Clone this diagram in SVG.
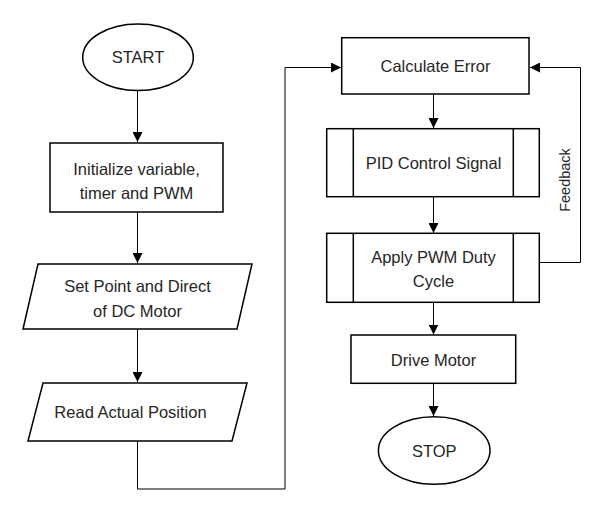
<svg xmlns="http://www.w3.org/2000/svg" width="609" height="520" viewBox="0 0 609 520">
<defs>
<marker id="ah" viewBox="0 0 10 10" refX="10" refY="5" markerWidth="10" markerHeight="10" markerUnits="userSpaceOnUse" orient="auto">
<path d="M0,0 L10,5 L0,10 Z" fill="#000"/>
</marker>
<style>
.n{fill:#fff;stroke:#000;stroke-width:1.5}
.c{fill:none;stroke:#000;stroke-width:1}
.t{font-family:"Liberation Sans",Arial,sans-serif;font-size:16.5px;fill:#262626;text-anchor:middle;dominant-baseline:central}
.f{font-size:14.5px}
</style>
</defs>
<rect width="609" height="520" fill="#fff"/>
<g id="connectors">
<path class="c" d="M137.5,91 V142" marker-end="url(#ah)"/>
<path class="c" d="M137.5,212 V263" marker-end="url(#ah)"/>
<path class="c" d="M137.5,329 V382" marker-end="url(#ah)"/>
<path class="c" d="M137.5,441 V489 H285 V67.5 H341" marker-end="url(#ah)"/>
<path class="c" d="M433.5,94 V128" marker-end="url(#ah)"/>
<path class="c" d="M433.5,197 V233" marker-end="url(#ah)"/>
<path class="c" d="M539,262.5 H580.5 V67.5 H530" marker-end="url(#ah)"/>
<path class="c" d="M433.5,302 V334.5" marker-end="url(#ah)"/>
<path class="c" d="M433.5,383 V416" marker-end="url(#ah)"/>
<text class="t f" transform="translate(565,180) rotate(-90)">Feedback</text>
</g>
<g id="start">
<ellipse class="n" cx="138" cy="57.3" rx="55.3" ry="33.3"/>
<text class="t" x="138" y="57">START</text>
</g>
<g id="init">
<rect class="n" x="50" y="143" width="173" height="69"/>
<text class="t" x="136.5" y="169">Initialize variable,</text>
<text class="t" x="136.5" y="193">timer and PWM</text>
</g>
<g id="setpoint">
<path class="n" d="M38,264 H252 L237,329 H23 Z"/>
<text class="t" x="137.5" y="286">Set Point and Direct</text>
<text class="t" x="137.5" y="311">of DC Motor</text>
</g>
<g id="read">
<path class="n" d="M43,383 H247 L232,441 H28 Z"/>
<text class="t" x="130.5" y="412">Read Actual Position</text>
</g>
<g id="calc">
<rect class="n" x="341.7" y="37.7" width="187.3" height="56.3"/>
<text class="t" x="435.5" y="66">Calculate Error</text>
</g>
<g id="pid">
<rect class="n" x="326.7" y="128.7" width="212.6" height="68"/>
<path class="n" d="M353.3,128.7 V196.7 M513.3,128.7 V196.7"/>
<text class="t" x="433.5" y="163">PID Control Signal</text>
</g>
<g id="pwm">
<rect class="n" x="326.7" y="233.3" width="212.6" height="69"/>
<path class="n" d="M353.3,233.3 V302.3 M513.3,233.3 V302.3"/>
<text class="t" x="433.5" y="256.7">Apply PWM Duty</text>
<text class="t" x="433.5" y="280.7">Cycle</text>
</g>
<g id="drive">
<rect class="n" x="351" y="335" width="164.7" height="48.3"/>
<text class="t" x="433.5" y="360">Drive Motor</text>
</g>
<g id="stop">
<ellipse class="n" cx="434.2" cy="450.5" rx="55.8" ry="33.8"/>
<text class="t" x="434.2" y="451">STOP</text>
</g>
</svg>
